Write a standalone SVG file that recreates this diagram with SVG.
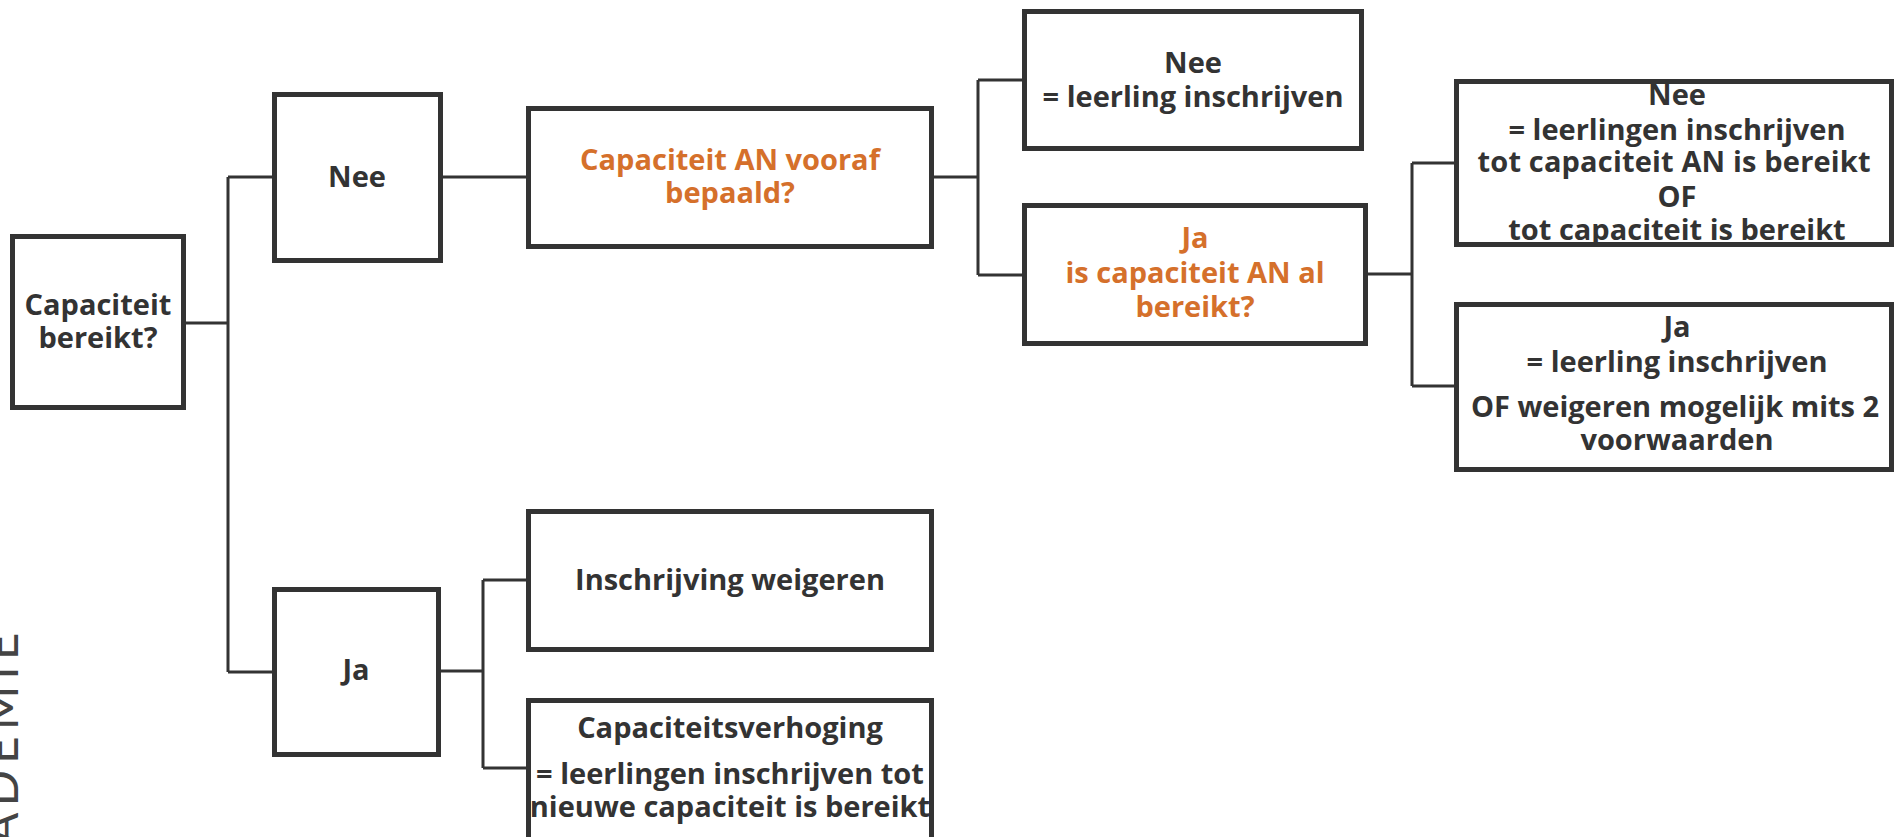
<svg xmlns="http://www.w3.org/2000/svg" width="1894" height="837" viewBox="0 0 1894 837">
<style>
.box{fill:#ffffff;stroke:#333333;stroke-width:5}
.t{font-family:"Open Sans","Liberation Sans",sans-serif;font-weight:700;font-size:29px;fill:#333333;text-anchor:middle}
.o{fill:#d5702b}
.c{fill:none;stroke:#333333;stroke-width:3}
.side{font-family:"Lato","Liberation Sans",sans-serif;font-weight:400;font-size:48px;fill:#444444;letter-spacing:6px}
</style>
<rect width="1894" height="837" fill="#ffffff"/>
<text class="side" transform="translate(18,845) rotate(-90)">ADEMIE</text>
<g id="connectors">
<path class="c" d="M186,323H228M228,177V672M228,177H272M228,672H272"/>
<path class="c" d="M443,177H526"/>
<path class="c" d="M934,177H978M978,80V275M978,80H1022M978,275H1022"/>
<path class="c" d="M1368,274H1412M1412,163V386M1412,163H1454M1412,386H1454"/>
<path class="c" d="M441,671H483M483,580V768M483,580H526M483,768H526"/>
</g>
<g id="n1"><rect class="box" x="12.5" y="236.5" width="171" height="171"/>
<text class="t" x="98" y="315">Capaciteit</text><text class="t" x="98" y="348">bereikt?</text></g>
<g id="n2"><rect class="box" x="274.5" y="94.5" width="166" height="166"/>
<text class="t" x="357" y="187">Nee</text></g>
<g id="n3"><rect class="box" x="274.5" y="589.5" width="164" height="165"/>
<text class="t" x="356" y="680">Ja</text></g>
<g id="n4"><rect class="box" x="528.5" y="108.5" width="403" height="138"/>
<text class="t o" x="730" y="170">Capaciteit AN vooraf</text><text class="t o" x="730" y="203">bepaald?</text></g>
<g id="n5"><rect class="box" x="1024.5" y="11.5" width="337" height="137"/>
<text class="t" x="1193" y="73">Nee</text><text class="t" x="1193" y="107">= leerling inschrijven</text></g>
<g id="n6"><rect class="box" x="1024.5" y="205.5" width="341" height="138"/>
<text class="t o" x="1195" y="248">Ja</text><text class="t o" x="1195" y="283">is capaciteit AN al</text><text class="t o" x="1195" y="317">bereikt?</text></g>
<g id="n7"><rect class="box" x="1456.5" y="81.5" width="435" height="163"/>
<text class="t" x="1677" y="105">Nee</text><text class="t" x="1677" y="140">= leerlingen inschrijven</text><text class="t" x="1674" y="172" textLength="393" lengthAdjust="spacing">tot capaciteit AN is bereikt</text><text class="t" x="1677" y="207">OF</text><text class="t" x="1677" y="240"> tot capaciteit is bereikt</text></g>
<g id="n8"><rect class="box" x="1456.5" y="304.5" width="435" height="165"/>
<text class="t" x="1677" y="337">Ja</text><text class="t" x="1677" y="372">= leerling inschrijven</text><text class="t" x="1675" y="417">OF weigeren mogelijk mits 2</text><text class="t" x="1677" y="450">voorwaarden</text></g>
<g id="n9"><rect class="box" x="528.5" y="511.5" width="403" height="138"/>
<text class="t" x="730" y="590">Inschrijving weigeren</text></g>
<g id="n10"><rect class="box" x="528.5" y="700.5" width="403" height="160"/>
<text class="t" x="730" y="738">Capaciteitsverhoging</text><text class="t" x="730" y="784">= leerlingen inschrijven tot</text><text class="t" x="730" y="817">nieuwe capaciteit is bereikt</text></g>
</svg>
